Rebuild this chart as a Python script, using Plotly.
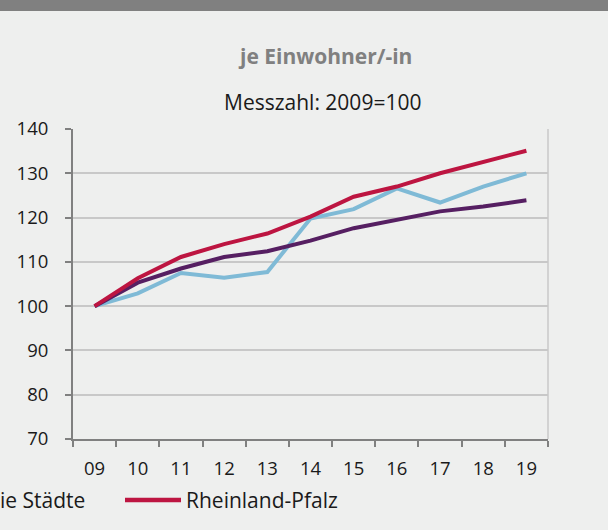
import plotly.graph_objects as go

years = ["09", "10", "11", "12", "13", "14", "15", "16", "17", "18", "19"]
landkreise = [100, 105.3, 108.5, 111.1, 112.4, 114.8, 117.6, 119.4, 121.4, 122.5, 123.9]
kreisfreie = [100, 102.9, 107.5, 106.4, 107.7, 119.8, 121.9, 126.6, 123.4, 127.0, 130.0]
rlp = [100, 106.3, 111.1, 114.0, 116.4, 120.2, 124.7, 127.0, 130.0, 132.6, 135.1]
y_ticks = [70, 80, 90, 100, 110, 120, 130, 140]

FONT = "Open Sans"
W, H = 608, 530
ML, MR, MT, MB = 73, 60, 129, 91
PW, PH = W - ML - MR, H - MT - MB

C_KS, C_LK, C_RLP = "#7fbad6", "#561f62", "#bd1541"

fig = go.Figure()
fig.add_trace(go.Scatter(x=years, y=kreisfreie, name="Kreisfreie Städte", mode="lines",
                         line=dict(color=C_KS, width=4)))
fig.add_trace(go.Scatter(x=years, y=landkreise, name="Landkreise", mode="lines",
                         line=dict(color=C_LK, width=4)))
fig.add_trace(go.Scatter(x=years, y=rlp, name="Rheinland-Pfalz", mode="lines",
                         line=dict(color=C_RLP, width=4)))

def px_x(p):
    return (p - ML) / PW

def px_y(p):
    return (H - MB - p) / PH

LEG_Y = 500
TICK_SIZE = 18.5
TXT_SIZE = 21
fig.update_layout(
    width=W, height=H,
    margin=dict(l=ML, r=MR, t=MT, b=MB, autoexpand=False),
    paper_bgcolor="#eeefee", plot_bgcolor="#eeefee",
    font=dict(family=FONT, size=TICK_SIZE, color="#1a1a1a"),
    showlegend=False,
    xaxis=dict(type="category", tickson="boundaries", ticks="outside", ticklen=6,
               tickcolor="#808080", tickwidth=1.5, showline=True, linecolor="#808080",
               linewidth=2, showgrid=False, ticklabelstandoff=12,
               tickfont=dict(size=TICK_SIZE, color="#1a1a1a"), range=[-0.5, 10.5]),
    yaxis=dict(range=[70, 140], tickvals=y_ticks, ticks="outside", ticklen=6,
               tickcolor="#808080", tickwidth=1.5, showline=True, linecolor="#808080",
               linewidth=2, showgrid=True, gridcolor="#c8c8c8", gridwidth=1.5,
               zeroline=False, ticklabelstandoff=13,
               tickfont=dict(size=TICK_SIZE, color="#1a1a1a")),
    shapes=[
        dict(type="rect", xref="paper", yref="paper", x0=px_x(0), x1=px_x(W),
             y0=px_y(11), y1=px_y(0), fillcolor="#808080", line=dict(width=0), layer="above"),
        dict(type="line", xref="paper", yref="paper", x0=1, x1=1, y0=0, y1=1,
             line=dict(color="#c8c8c8", width=1.5)),
        dict(type="line", xref="paper", yref="paper", x0=px_x(-120), x1=px_x(-64),
             y0=px_y(LEG_Y), y1=px_y(LEG_Y), line=dict(color=C_KS, width=4.5)),
        dict(type="line", xref="paper", yref="paper", x0=px_x(125), x1=px_x(181),
             y0=px_y(LEG_Y), y1=px_y(LEG_Y), line=dict(color=C_RLP, width=4.5)),
    ],
    annotations=[
        dict(text="<b>je Einwohner/-in</b>", xref="paper", yref="paper", x=px_x(325), y=px_y(56),
             xanchor="center", yanchor="middle", showarrow=False,
             font=dict(size=TXT_SIZE, color="#808080", family=FONT)),
        dict(text="Messzahl: 2009=100", xref="paper", yref="paper", x=px_x(322), y=px_y(102),
             xanchor="center", yanchor="middle", showarrow=False,
             font=dict(size=TXT_SIZE, color="#1a1a1a", family=FONT)),
        dict(text="Kreisfreie Städte", xref="paper", yref="paper", x=px_x(87), y=px_y(LEG_Y),
             xanchor="right", yanchor="middle", showarrow=False,
             font=dict(size=TXT_SIZE, color="#1a1a1a", family=FONT)),
        dict(text="Rheinland-Pfalz", xref="paper", yref="paper", x=px_x(184), y=px_y(LEG_Y),
             xanchor="left", yanchor="middle", showarrow=False,
             font=dict(size=TXT_SIZE, color="#1a1a1a", family=FONT)),
    ],
)

fig.write_html("out.html", config={"displayModeBar": False},
               post_script="document.body.style.margin='0';document.body.style.overflow='hidden';")
